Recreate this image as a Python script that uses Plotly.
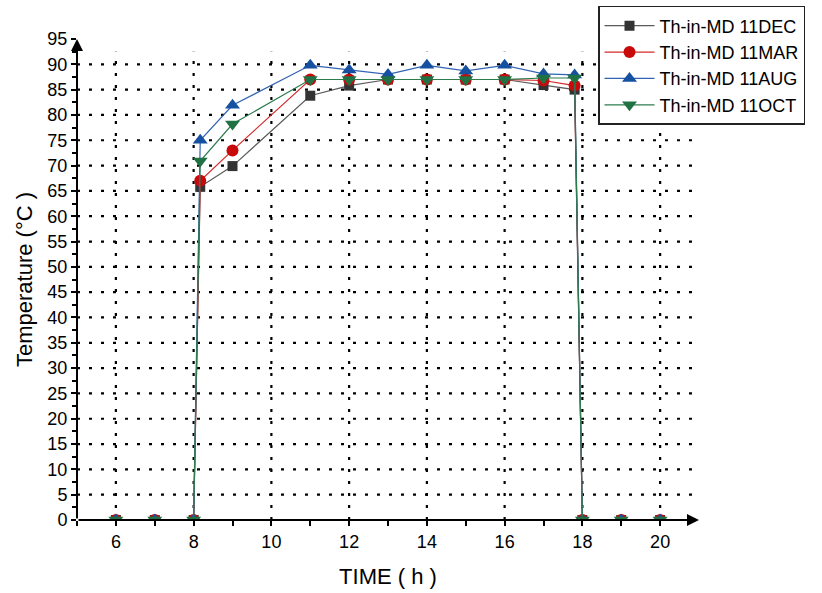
import plotly.graph_objects as go

# Hourly readings (h) and outlet temperatures (°C) for four sample days
time_h = [6, 7, 8, 8.17, 9, 11, 12, 13, 14, 15, 16, 17, 17.8, 18, 19, 20]
temp_dec = [0, 0, 0, 65.8, 69.9, 83.8, 85.8, 87, 87, 87, 87, 85.9, 85.0, 0, 0, 0]
temp_mar = [0, 0, 0, 67.0, 73.0, 87.0, 87.0, 87, 87, 87, 87, 86.8, 85.8, 0, 0, 0]
temp_aug = [0, 0, 0, 75.0, 81.9, 89.8, 88.9, 88.0, 89.8, 88.7, 89.8, 88.1, 87.9, 0, 0, 0]
temp_oct = [0, 0, 0, 70.9, 78.2, 87.0, 87.0, 87, 87, 87, 87, 87.3, 87.3, 0, 0, 0]

series_names = ["Th-in-MD 11DEC", "Th-in-MD 11MAR", "Th-in-MD 11AUG", "Th-in-MD 11OCT"]

x_tick_vals = list(range(5, 21))
x_tick_text = ["" if v % 2 else str(v) for v in x_tick_vals]
x_grid_vals = [6, 8, 10, 12, 14, 16, 18, 20]
y_tick_vals = list(range(0, 96, 5))
y_grid_vals = list(range(5, 91, 5))

FONT = "Liberation Sans, Arial, sans-serif"

styles = [
    dict(line="#5a5a5a", marker="#333333", symbol="square", size=10),
    dict(line="#d42a2a", marker="#c80a0a", symbol="circle", size=12),
    dict(line="#3363b3", marker="#1650a0", symbol="triangle-up", size=13),
    dict(line="#2d7c4e", marker="#207244", symbol="triangle-down", size=13),
]

fig = go.Figure()
for name, vals, st in zip(series_names, [temp_dec, temp_mar, temp_aug, temp_oct], styles):
    fig.add_trace(go.Scatter(
        x=time_h, y=vals, name=name, mode="lines+markers",
        line=dict(color=st["line"], width=1.2),
        marker=dict(color=st["marker"], symbol=st["symbol"], size=st["size"], line=dict(width=0)),
        cliponaxis=True,
    ))

# dotted grid
dot = "3px,9px"
for gv in y_grid_vals:
    fig.add_shape(type="line", xref="x", yref="y", x0=5, x1=20.9, y0=gv, y1=gv,
                  line=dict(color="black", width=2.2, dash=dot), layer="below")
for gv in x_grid_vals:
    fig.add_shape(type="line", xref="x", yref="y", x0=gv, x1=gv, y0=0, y1=92.5,
                  line=dict(color="black", width=2.2, dash=dot), layer="below")

# axis lines with arrowheads
fig.add_annotation(x=21, y=0, ax=5, ay=0, xref="x", yref="y", axref="x", ayref="y",
                   text="", showarrow=True, arrowhead=2, arrowsize=1.2, arrowwidth=2,
                   arrowcolor="black")
fig.add_annotation(x=5, y=95, ax=5, ay=0, xref="x", yref="y", axref="x", ayref="y",
                   text="", showarrow=True, arrowhead=2, arrowsize=1.2, arrowwidth=2,
                   arrowcolor="black")

fig.update_layout(
    width=822, height=593,
    margin=dict(l=77, r=123, t=39, b=73, autoexpand=False),
    paper_bgcolor="white", plot_bgcolor="white",
    font=dict(family=FONT, color="black", size=18),
    showlegend=True,
    legend=dict(
        xref="container", yref="container",
        x=0.7275, y=0.990, xanchor="left", yanchor="top",
        bgcolor="white", bordercolor="#222222", borderwidth=1.5,
        font=dict(family=FONT, size=18, color="black"),
        itemwidth=50, tracegroupgap=0,
    ),
    xaxis=dict(
        range=[5, 21], showgrid=False, zeroline=False, showline=False,
        tickmode="array", tickvals=x_tick_vals, ticktext=x_tick_text,
        ticks="outside", ticklen=5, tickwidth=1.5, tickcolor="black",
        tickfont=dict(size=18), automargin=False,
        title=dict(text="TIME ( h )", font=dict(size=22), standoff=18),
    ),
    yaxis=dict(
        range=[0, 95], showgrid=False, zeroline=False, showline=False,
        tickmode="array", tickvals=y_tick_vals,
        ticks="outside", ticklen=5, tickwidth=1.5, tickcolor="black",
        minor=dict(dtick=2.5, tick0=0, ticks="outside", ticklen=4, tickwidth=1.5,
                   tickcolor="black", showgrid=False),
        tickfont=dict(size=18), automargin=False,
        title=dict(text="Temperature (°C )", font=dict(size=22), standoff=8),
    ),
)

fig.write_html("out.html")
